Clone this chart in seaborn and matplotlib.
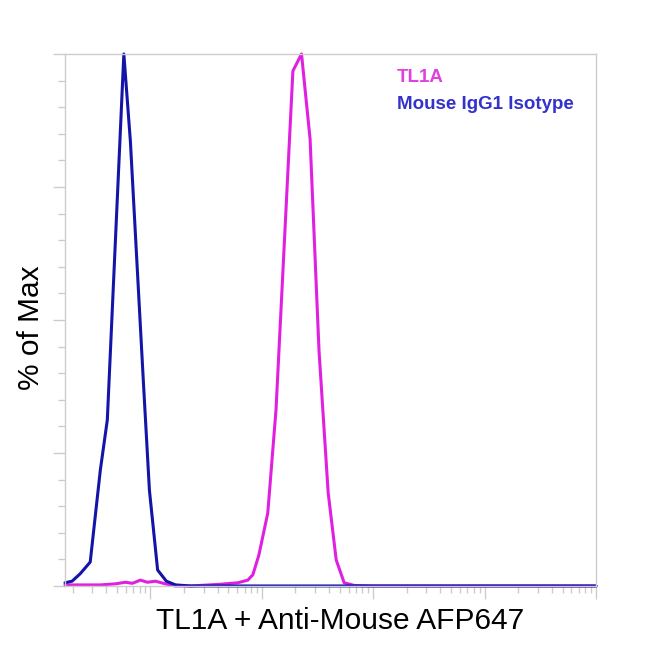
import pandas as pd
import matplotlib.pyplot as plt
import seaborn as sns
import numpy as np
from matplotlib.ticker import LogLocator, MultipleLocator, NullFormatter

# Histogram traces (x = fluorescence, y = % of max)
isotype_x = [1.71, 1.98, 2.34, 2.88, 3.55, 4.10, 5.77, 6.61, 8.65, 9.79,
             11.6, 13.9, 16.8, 22.9, 100, 1000, 10000, 100000]
isotype_y = [0.6, 0.9, 2.3, 4.5, 21.8, 31.2, 100, 83.5, 38.2, 18.0,
             3.0, 0.9, 0.2, 0, 0, 0, 0, 0]

tl1a_x = [1.71, 3.55, 4.84, 5.96, 6.88, 8.13, 9.39, 11.1, 13.6, 16.8, 22.9,
          41.0, 60.8, 74.8, 83.0, 94.0, 113, 134, 190, 227, 271, 326, 394,
          465, 548, 675, 1000, 10000, 100000]
tl1a_y = [0.2, 0.2, 0.4, 0.7, 0.5, 1.1, 0.7, 0.9, 0.4, 0, 0,
          0.3, 0.6, 1.1, 2.1, 5.8, 13.7, 33.1, 96.8, 100, 84.0, 44.2, 17.5,
          4.9, 0.6, 0.1, 0, 0, 0]

sample_names = ["TL1A", "Mouse IgG1 Isotype"]
colors = {"TL1A": "#e020e0", "Mouse IgG1 Isotype": "#1414a8"}

df = pd.concat([
    pd.DataFrame({"x": tl1a_x, "y": tl1a_y, "sample": sample_names[0]}),
    pd.DataFrame({"x": isotype_x, "y": isotype_y, "sample": sample_names[1]}),
], ignore_index=True)

sns.set_style("white")
plt.rcParams['font.family'] = ['Liberation Sans', 'DejaVu Sans']

fig = plt.figure(figsize=(6.5, 6.5), dpi=100)
ax = fig.add_axes([0.1, 0.0985, 0.817, 0.8185])

sns.lineplot(data=df, x="x", y="y", hue="sample", palette=colors,
             hue_order=sample_names, sort=False, estimator=None,
             linewidth=2.2, legend=False, ax=ax)
for line in ax.lines:
    line.set_clip_on(False)

ax.set_xscale("log")
ax.set_xlim(1.71, 1e5)
ax.set_ylim(0, 100)

# spines and ticks in light gray
for s in ax.spines.values():
    s.set_color("#cccccc")
    s.set_linewidth(1.0)

ax.xaxis.set_major_locator(LogLocator(base=10))
ax.xaxis.set_minor_locator(LogLocator(base=10, subs=np.arange(2, 10)))
ax.xaxis.set_major_formatter(NullFormatter())
ax.xaxis.set_minor_formatter(NullFormatter())
ax.yaxis.set_major_locator(MultipleLocator(25))
ax.yaxis.set_minor_locator(MultipleLocator(5))
ax.yaxis.set_major_formatter(NullFormatter())

ax.tick_params(axis="both", which="major", direction="out", length=9,
               width=1, color="#cccccc", bottom=True, left=True)
ax.tick_params(axis="both", which="minor", direction="out", length=5,
               width=1, color="#cccccc", bottom=True, left=True)

ax.set_xlabel("TL1A + Anti-Mouse AFP647", fontsize=21.5, color="black")
ax.set_ylabel("% of Max", fontsize=21.5, color="black")
ax.xaxis.set_label_coords(0.518, -0.039)
ax.yaxis.set_label_coords(-0.038, 0.485)

# legend as coloured text
ax.text(0.625, 0.955, "TL1A", transform=ax.transAxes, color="#e040e0",
        fontsize=13.5, fontweight="bold", va="center")
ax.text(0.625, 0.905, "Mouse IgG1 Isotype", transform=ax.transAxes,
        color="#3333cc", fontsize=13.5, fontweight="bold", va="center")

plt.savefig("out.png", dpi=100)
